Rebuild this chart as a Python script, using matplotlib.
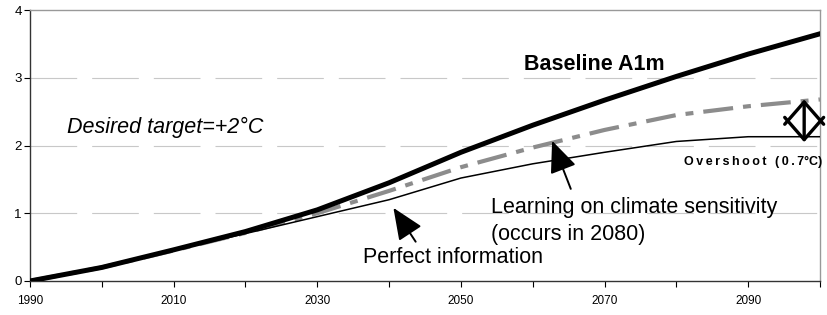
import matplotlib.pyplot as plt
import numpy as np

plt.rcParams["font.family"] = ["Liberation Sans", "DejaVu Sans"]

# Temperature increase (deg C) by year
years = [1990, 2000, 2010, 2020, 2030, 2040, 2050, 2060, 2070, 2080, 2090, 2100]
baseline = [0.0, 0.2, 0.46, 0.73, 1.05, 1.45, 1.9, 2.3, 2.67, 3.02, 3.35, 3.65]
learning = [0.0, 0.2, 0.45, 0.71, 1.0, 1.33, 1.68, 1.97, 2.23, 2.45, 2.58, 2.68]
perfect = [0.0, 0.2, 0.45, 0.7, 0.95, 1.2, 1.52, 1.73, 1.9, 2.06, 2.13, 2.13]

# overshoot bracket
overshoot_year = 2097.8
overshoot_low = 2.05
overshoot_high = 2.68

fig = plt.figure(figsize=(8.27, 3.15), dpi=100)
ax = fig.add_axes([0.0363, 0.108, 0.9552, 0.860])

# dashed horizontal grid
for yv in [1, 2, 3]:
    ax.axhline(yv, color="#c8c8c8", lw=0.8, dashes=(42, 13.5), zorder=0)

ax.plot(years, perfect, color="black", lw=1.1, zorder=3)
ax.plot(years, learning, color="#8c8c8c", lw=3.0, dashes=(7.2, 2.4, 1.9, 2.4), zorder=2)
ax.plot(years, baseline, color="black", lw=3.6, zorder=4)

# overshoot double arrow
ax.annotate("", xy=(overshoot_year, overshoot_high), xytext=(overshoot_year, overshoot_low),
            arrowprops=dict(arrowstyle="<->,head_length=16,head_width=14",
                            mutation_scale=1, lw=2.4, color="black",
                            shrinkA=0, shrinkB=0), zorder=5)

# labels
ax.text(2058.8, 3.19, "Baseline A1m", fontsize=15.5, fontweight="bold", va="center", ha="left")
ax.text(1995.2, 2.26, "Desired target=+2°C", fontsize=15.5, style="italic", va="center", ha="left")
spaced = "\u2009".join("Overshoot (0.7") + "°C)"
ax.text(2100.3, 1.76, spaced, fontsize=9, fontweight="bold", va="center", ha="right")

ax.text(2054.2, 0.89, "Learning on climate sensitivity\n(occurs in 2080)", fontsize=15.5,
        va="center", ha="left", linespacing=1.4)
ax.text(2036.3, 0.34, "Perfect information", fontsize=15.5, va="center", ha="left")

arrow = dict(arrowstyle="-|>,head_length=1.4,head_width=0.6", mutation_scale=14,
             color="black", lw=1.4, shrinkA=0, shrinkB=0)
ax.annotate("", xy=(2062.7, 2.07), xytext=(2065.3, 1.36), arrowprops=arrow, zorder=6)
ax.annotate("", xy=(2040.6, 1.08), xytext=(2043.7, 0.58), arrowprops=arrow, zorder=6)

ax.set_xlim(1990, 2100)
ax.set_ylim(0, 4)
ax.set_xticks(np.arange(1990, 2101, 10))
ax.set_xticklabels([str(y) if (y - 1990) % 20 == 0 and y < 2100 else "" for y in range(1990, 2101, 10)])
ax.set_yticks([0, 1, 2, 3, 4])
ax.tick_params(axis="x", labelsize=8.5, length=4, width=0.8, pad=6)
ax.tick_params(axis="y", labelsize=9.5, length=4, width=0.8, pad=2)

ax.spines["top"].set_color("#999999")
ax.spines["right"].set_color("#999999")
ax.spines["left"].set_color("#333333")
ax.spines["bottom"].set_color("#333333")
for s in ax.spines.values():
    s.set_linewidth(1.0)

fig.savefig("out.png", dpi=100)
